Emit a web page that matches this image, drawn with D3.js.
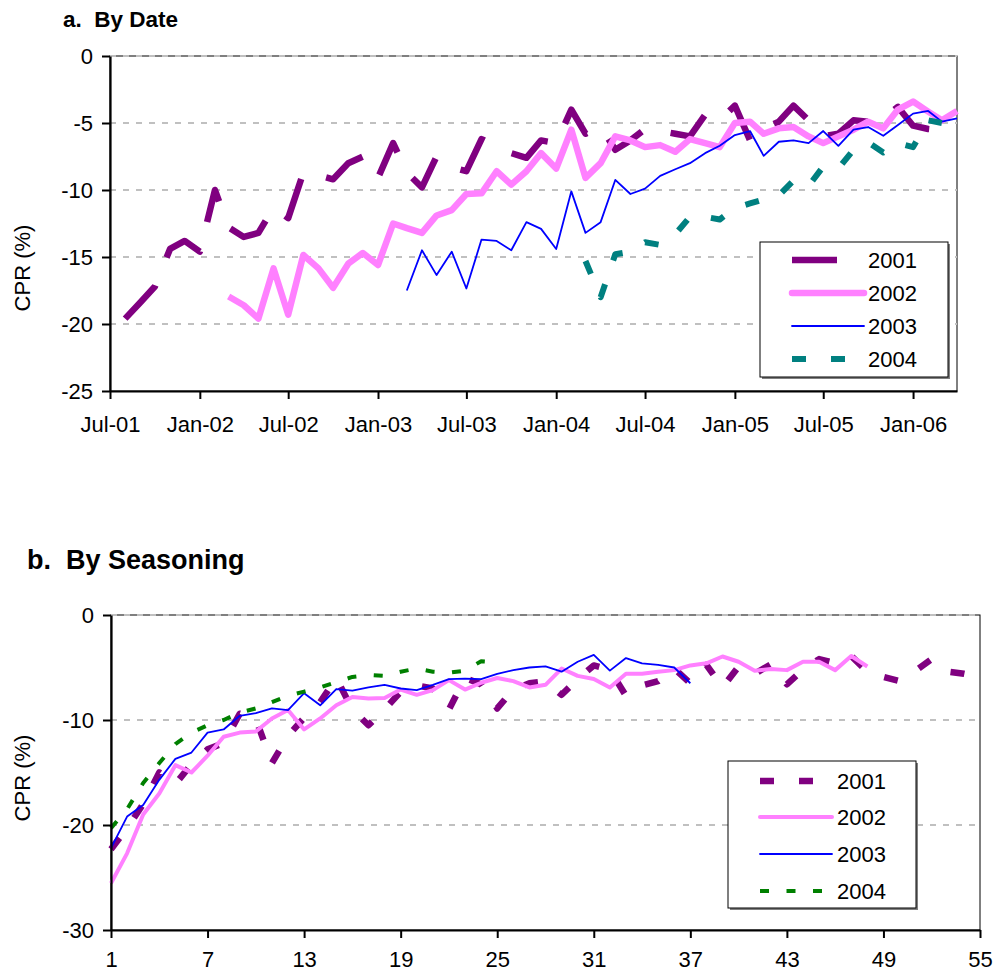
<!DOCTYPE html>
<html>
<head>
<meta charset="utf-8">
<title>CPR by date and by seasoning</title>
<script src="https://cdn.jsdelivr.net/npm/d3@7"></script>
<style>
  body { margin: 0; background: #fff; }
  text { font-family: Arial, "Liberation Sans", sans-serif; fill: #000; }
</style>
</head>
<body>
<script>
const W = 1008, H = 973;

const years = ["2001", "2002", "2003", "2004"];

// a. by date -- one value per month, first value sits at dateStart[k] months after Jul-01
const dateStart = [0, 7, 19, 31];
const date2001 = [-19.6, -18.4, -17.2, -14.4, -13.8, -14.6, -10.0, -12.8, -13.5, -13.2,
  -11.3, -12.1, -8.7, -8.9, -9.2, -8.0, -7.5, -9.1, -6.5, -8.7,
  -9.8, -7.5, -8.3, -8.6, -6.2, -6.75, -7.25, -7.6, -6.3, -6.5,
  -4.0, -5.8, -5.25, -7.0, -6.3, -5.45, -5.6, -5.8, -6.0, -4.4,
  -4.8, -3.7, -6.3, -5.4, -4.9, -3.7, -4.8, -6.0, -5.8, -4.8,
  -4.9, -4.65, -3.8, -5.2, -5.45, -5.55];
const date2002 = [-17.95, -18.6, -19.6, -15.85, -19.3, -14.85, -15.85, -17.3, -15.5, -14.7,
  -15.6, -12.5, -12.85, -13.2, -11.9, -11.5, -10.3, -10.25, -8.6, -9.6,
  -8.6, -7.25, -8.4, -5.5, -9.1, -8.0, -6.0, -6.3, -6.8, -6.65,
  -7.15, -6.2, -6.5, -6.8, -5.0, -4.9, -5.8, -5.4, -5.3, -6.0,
  -6.5, -6.0, -5.5, -4.9, -5.4, -4.0, -3.4, -4.15, -4.8, -4.1];
const date2003 = [-17.5, -14.5, -16.35, -14.6, -17.35, -13.7, -13.8, -14.5, -12.4, -12.9,
  -14.4, -10.1, -13.2, -12.4, -9.25, -10.3, -9.9, -8.95, -8.45, -8.0,
  -7.25, -6.7, -5.9, -5.6, -7.45, -6.4, -6.3, -6.5, -5.6, -6.7,
  -5.5, -5.3, -5.95, -5.15, -4.3, -4.1, -4.9, -4.65];
const date2004 = [-15.3, -18.0, -14.8, -14.6, -13.9, -14.1, -13.3, -12.0, -12.0, -12.2,
  -11.35, -11.0, -10.7, -10.4, -9.3, -9.7, -8.25, -8.4, -7.0, -6.45,
  -7.2, -6.5, -6.8, -4.8, -5.0];
const dateYTicks = [0, -5, -10, -15, -20, -25];

// b. by seasoning -- value for seasoning month 1, 2, 3, ...
const seas2001 = [-22.3, -20.3, -18.0, -15.0, -16.1, -14.2, -12.8, -12.2, -9.4, -9.9,
  -14.1, -11.5, -9.8, -8.3, -6.0, -9.0, -10.5, -9.0, -7.3, -6.7,
  -7.0, -9.0, -6.0, -6.6, -8.9, -7.1, -6.5, -6.3, -7.6, -6.1,
  -4.8, -5.2, -7.7, -6.7, -6.3, -5.1, -6.5, -4.75, -6.9, -4.9,
  -5.6, -4.7, -6.6, -5.2, -4.2, -4.6, -3.9, -5.4, -5.9, -6.3,
  -5.3, -4.2, -5.4, -5.6, -5.9];
const seas2002 = [-25.55, -22.7, -19.0, -17.0, -14.3, -15.0, -13.4, -11.6, -11.2, -11.1,
  -9.85, -9.05, -10.9, -9.85, -8.6, -7.8, -7.95, -7.9, -7.1, -7.6,
  -7.15, -6.2, -7.1, -6.45, -6.0, -6.3, -6.9, -6.65, -5.1, -5.8,
  -6.1, -6.9, -5.6, -5.6, -5.4, -5.25, -4.8, -4.6, -3.95, -4.45,
  -5.3, -5.15, -5.25, -4.45, -4.45, -5.25, -3.9, -4.9];
const seas2003 = [-22.2, -19.2, -18.1, -15.7, -13.7, -13.1, -11.2, -10.9, -9.6, -9.35,
  -8.9, -9.05, -7.45, -8.6, -7.05, -7.2, -6.9, -6.65, -7.0, -7.15,
  -6.65, -6.1, -6.05, -6.1, -5.6, -5.25, -5.0, -4.9, -5.4, -4.45,
  -3.8, -5.3, -4.1, -4.6, -4.75, -5.0, -6.5];
const seas2004 = [-20.3, -18.5, -16.0, -14.1, -12.3, -11.2, -10.5, -10.0, -9.3, -8.9,
  -8.3, -7.7, -7.3, -6.9, -6.4, -5.9, -5.7, -5.8, -5.4, -5.1,
  -5.4, -5.5, -5.3, -4.4, -4.5];
const seasXTicks = [1, 7, 13, 19, 25, 31, 37, 43, 49, 55];
const seasYTicks = [0, -10, -20, -30];

const svg = d3.select("body").append("svg")
  .attr("width", W).attr("height", H)
  .style("display", "block");

const firstMonth = new Date(2001, 6, 1);
// each monthly value is plotted at the end of its month
const monthEnd = i => d3.timeMonth.offset(firstMonth, i + 1);

function drawPanel(p) {
  const g = svg.append("g");

  // plot area border
  g.append("rect")
    .attr("x", p.left).attr("y", p.top)
    .attr("width", p.right - p.left).attr("height", p.bottom - p.top)
    .attr("fill", "none").attr("stroke", "#000").attr("stroke-width", 1);

  // gridlines
  g.selectAll("line.grid")
    .data(p.yTicks.filter(v => v !== p.y.domain()[0])).join("line")
    .attr("class", "grid")
    .attr("x1", p.left).attr("x2", p.right)
    .attr("y1", d => p.y(d)).attr("y2", d => p.y(d))
    .attr("stroke", "#c0c0c0").attr("stroke-width", 2)
    .attr("stroke-dasharray", "6,7");

  // series
  const line = d3.line().x(d => d.x).y(d => d.y);
  p.series.forEach(s => {
    g.append("path")
      .attr("d", line(s.points))
      .attr("fill", "none")
      .attr("stroke", s.color)
      .attr("stroke-width", s.width)
      .attr("stroke-dasharray", s.dash)
      .attr("stroke-linejoin", "round")
      .attr("stroke-linecap", "butt");
  });

  // axes
  const ax = g.append("g")
    .attr("transform", `translate(0,${p.bottom})`)
    .call(p.xAxis.tickSize(8).tickPadding(p.xPad).tickSizeOuter(0));
  const ay = g.append("g")
    .attr("transform", `translate(${p.left},0)`)
    .call(d3.axisLeft(p.y).tickValues(p.yTicks).tickFormat(d3.format("d"))
      .tickSize(8).tickPadding(9).tickSizeOuter(0));
  [ax, ay].forEach(a => {
    a.select(".domain").attr("stroke", "#000").attr("stroke-width", 2.2);
    a.selectAll(".tick line").attr("stroke", "#000").attr("stroke-width", 2);
    a.selectAll(".tick text").style("font-size", "22px").attr("fill", "#000");
  });
  ay.selectAll(".tick text").text(d => d === 0 ? "0" : "-" + Math.abs(d));

  // axis title
  g.append("text")
    .attr("transform", `translate(30,${p.yTitle}) rotate(-90)`)
    .attr("text-anchor", "middle")
    .style("font-size", "22px")
    .text("CPR (%)");

  // panel title
  g.append("text")
    .attr("x", p.titleX).attr("y", p.titleY)
    .style("font-size", p.titleSize + "px").style("font-weight", "bold")
    .attr("xml:space", "preserve")
    .text(p.title);

  // legend
  const L = p.legend;
  g.append("rect")
    .attr("x", L.x + 2).attr("y", L.y + 2).attr("width", L.w).attr("height", L.h)
    .attr("fill", "#808080");
  g.append("rect")
    .attr("x", L.x).attr("y", L.y).attr("width", L.w).attr("height", L.h)
    .attr("fill", "#fff").attr("stroke", "#000").attr("stroke-width", 1);
  const items = g.selectAll("g.leg").data(p.series).join("g")
    .attr("class", "leg")
    .attr("transform", (d, i) => `translate(0,${L.rowY[i]})`);
  items.append("line")
    .attr("x1", L.x1).attr("x2", L.x2)
    .attr("stroke", d => d.color)
    .attr("stroke-width", d => d.width)
    .attr("stroke-dasharray", d => d.dash)
    .attr("stroke-linecap", d => d.dash ? "butt" : "round");
  items.append("text")
    .attr("x", L.tx).attr("dy", "0.35em")
    .style("font-size", "22px")
    .text(d => d.name);
}

// ---- panel a ----
const xa = d3.scaleTime()
  .domain([firstMonth, d3.timeMonth.offset(firstMonth, 57)])
  .range([110, 957]);
const ya = d3.scaleLinear().domain([-25, 0]).range([391, 56]);
const dateStyles = [
  { color: "#800080", width: 6.5, dash: "45,30" },
  { color: "#ff80ff", width: 6.5, dash: null },
  { color: "#0000ff", width: 1.8, dash: null },
  { color: "#008080", width: 6, dash: "14,25" }
];
const dateSeries = [date2001, date2002, date2003, date2004].map((vals, k) => ({
  name: years[k], ...dateStyles[k],
  points: vals.map((v, j) => ({ x: xa(monthEnd(dateStart[k] + j)), y: ya(v) }))
}));

drawPanel({
  left: 110, right: 957, top: 56, bottom: 391,
  y: ya, yTicks: dateYTicks, xPad: 17,
  xAxis: d3.axisBottom(xa)
    .tickValues(d3.timeMonth.every(6).range(firstMonth, d3.timeMonth.offset(firstMonth, 57)))
    .tickFormat(d3.timeFormat("%b-%y")),
  series: dateSeries,
  yTitle: 268,
  title: "a.  By Date", titleX: 63, titleY: 27, titleSize: 22.5,
  legend: { x: 760, y: 242, w: 188, h: 135, rowY: [260, 293, 326, 359],
            x1: 792, x2: 864, tx: 868 }
});

// ---- panel b ----
const xb = d3.scaleLinear().domain([1, 55]).range([111, 980]);
const yb = d3.scaleLinear().domain([-30, 0]).range([930, 615]);
const seasStyles = [
  { color: "#800080", width: 6.5, dash: "14,25" },
  { color: "#ff80ff", width: 4, dash: null },
  { color: "#0000ff", width: 1.8, dash: null },
  { color: "#008000", width: 4, dash: "9,17.5" }
];
const seasSeries = [seas2001, seas2002, seas2003, seas2004].map((vals, k) => ({
  name: years[k], ...seasStyles[k],
  points: vals.map((v, j) => ({ x: xb(j + 1), y: yb(v) }))
}));

drawPanel({
  left: 111, right: 980, top: 615, bottom: 930,
  y: yb, yTicks: seasYTicks, xPad: 13,
  xAxis: d3.axisBottom(xb).tickValues(seasXTicks).tickFormat(d3.format("d")),
  series: seasSeries,
  yTitle: 778,
  title: "b.  By Seasoning", titleX: 27, titleY: 569, titleSize: 27,
  legend: { x: 728, y: 761, w: 188, h: 147, rowY: [781, 817, 854, 891],
            x1: 760, x2: 832, tx: 837 }
});
</script>
</body>
</html>
